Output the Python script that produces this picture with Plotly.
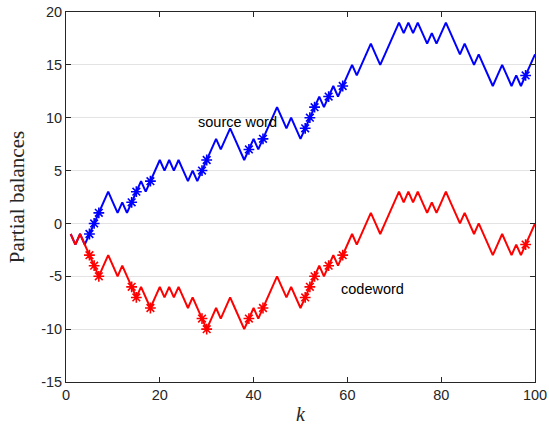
import plotly.graph_objects as go

k = list(range(1, 101))

source_word = [
    -1, -2, -1, -2, -1, 0, 1, 2, 3, 2,
    1, 2, 1, 2, 3, 4, 3, 4, 5, 6,
    5, 6, 5, 6, 5, 4, 5, 4, 5, 6,
    7, 8, 7, 8, 9, 8, 7, 6, 7, 8,
    7, 8, 9, 10, 11, 10, 9, 10, 9, 8,
    9, 10, 11, 12, 11, 12, 13, 12, 13, 14,
    15, 14, 15, 16, 17, 16, 15, 16, 17, 18,
    19, 18, 19, 18, 19, 18, 17, 18, 17, 18,
    19, 18, 17, 16, 17, 16, 15, 16, 15, 14,
    13, 14, 15, 14, 13, 14, 13, 14, 15, 16,
]

codeword = [
    -1, -2, -1, -2, -3, -4, -5, -4, -3, -4,
    -5, -4, -5, -6, -7, -6, -7, -8, -7, -6,
    -7, -6, -7, -6, -7, -8, -7, -8, -9, -10,
    -9, -8, -9, -8, -7, -8, -9, -10, -9, -8,
    -9, -8, -7, -6, -5, -6, -7, -6, -7, -8,
    -7, -6, -5, -4, -5, -4, -3, -4, -3, -2,
    -1, -2, -1, 0, 1, 0, -1, 0, 1, 2,
    3, 2, 3, 2, 3, 2, 1, 2, 1, 2,
    3, 2, 1, 0, 1, 0, -1, 0, -1, -2,
    -3, -2, -1, -2, -3, -2, -3, -2, -1, 0,
]

star_positions = [5, 6, 7, 14, 15, 18, 29, 30, 39, 42, 51, 52, 53, 56, 59, 98]

x_ticks = [0, 20, 40, 60, 80, 100]
x_tick_labels = ["0", "20", "40", "60", "80", "100"]
y_ticks = [-15, -10, -5, 0, 5, 10, 15, 20]
y_tick_labels = ["-15", "-10", "-5", "0", "5", "10", "15", "20"]

blue = "#0000FF"
red = "#FF0000"

fig = go.Figure()

for vals, col in [(source_word, blue), (codeword, red)]:
    fig.add_trace(go.Scatter(x=k, y=vals, mode="lines",
                             line=dict(color=col, width=2), showlegend=False,
                             hoverinfo="skip"))
    fig.add_trace(go.Scatter(
        x=star_positions, y=[vals[p - 1] for p in star_positions],
        mode="markers",
        marker=dict(symbol="asterisk-open", size=9, color=col,
                    line=dict(color=col, width=1.6)),
        showlegend=False, hoverinfo="skip"))

fig.add_annotation(x=36.6, y=9.6, text="source word", showarrow=False,
                   font=dict(family="Liberation Sans, Arial", size=14.5, color="#000"))
fig.add_annotation(x=65.4, y=-6.2, text="codeword", showarrow=False,
                   font=dict(family="Liberation Sans, Arial", size=14.5, color="#000"))

axis_common = dict(
    showline=True, linecolor="#262626", linewidth=1, mirror="ticks",
    ticks="inside", ticklen=5, tickcolor="#262626", zeroline=False,
    automargin=False, ticklabeloverflow="allow",
    tickfont=dict(family="Liberation Sans, Arial", size=14.5, color="#262626"),
)

fig.update_xaxes(range=[0, 100], tickvals=x_ticks, ticktext=x_tick_labels, showgrid=False,
                 title=dict(text="<i>k</i>", standoff=4,
                            font=dict(family="Liberation Serif, Times New Roman", size=20, color="#262626")),
                 **axis_common)
fig.update_yaxes(range=[-15, 20], tickvals=y_ticks, ticktext=y_tick_labels, showgrid=True,
                 gridcolor="#E3E3E3", gridwidth=1,
                 title=dict(text="Partial balances", standoff=10,
                            font=dict(family="Liberation Serif, Times New Roman", size=21, color="#262626")),
                 **axis_common)

fig.update_layout(
    width=549, height=428,
    margin=dict(l=66, r=14, t=12, b=46),
    plot_bgcolor="white", paper_bgcolor="white",
)

fig.write_html("out.html", config={"displayModeBar": False},
               post_script="document.body.style.margin='0';")
